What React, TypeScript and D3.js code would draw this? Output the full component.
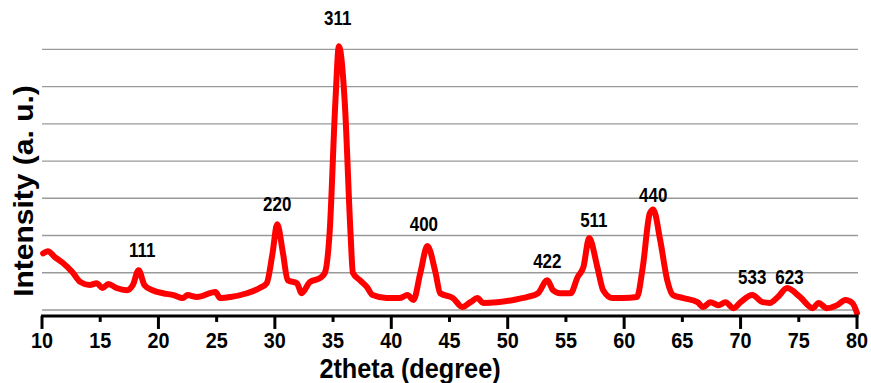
import React from 'react';
import { scaleLinear, line, curveMonotoneX } from 'd3';

// 2theta readings and intensity (in gridline units, a.u.)
const twoTheta = [
  10.1, 10.5, 11.1, 11.8, 12.6, 13.3, 14.1, 14.7, 15.2, 15.7, 16.4, 17.3, 17.8, 18.3, 18.8,
  19.5, 20.4, 21.3, 22.1, 22.5, 23.3, 24.9, 25.3, 26.2, 27.6, 28.7, 29.3, 29.8, 30.2, 30.7,
  31.1, 31.9, 32.3, 33.0, 33.9, 34.3, 34.7, 35.2, 35.5, 36.0, 36.5, 36.7, 37.3, 37.9, 38.4,
  39.6, 40.7, 41.4, 41.9, 42.5, 43.1, 43.8, 44.2, 45.3, 46.1, 46.8, 47.4, 47.9, 49.1, 50.5,
  51.7, 52.6, 53.4, 53.9, 54.5, 55.4, 56.0, 56.5, 57.0, 57.7, 58.2, 59.0, 59.9, 61.1, 61.6,
  62.2, 62.5, 63.1, 63.7, 64.2, 65.1, 66.3, 66.8, 67.4, 68.1, 68.7, 69.4, 70.0, 71.0, 71.9,
  72.5, 73.2, 74.0, 75.1, 76.2, 76.7, 77.4, 78.3, 79.0, 79.6, 80.0
];
const intensity = [
  1.52, 1.58, 1.42, 1.26, 1.02, 0.75, 0.67, 0.72, 0.59, 0.70, 0.59, 0.53, 0.67, 1.07, 0.67,
  0.53, 0.45, 0.40, 0.32, 0.40, 0.35, 0.48, 0.32, 0.35, 0.45, 0.59, 0.72, 1.52, 2.30, 1.52,
  0.80, 0.72, 0.45, 0.75, 0.86, 1.00, 2.06, 5.60, 7.08, 5.60, 2.06, 1.00, 0.80, 0.62, 0.40,
  0.32, 0.32, 0.40, 0.27, 1.00, 1.72, 1.00, 0.45, 0.32, 0.08, 0.21, 0.32, 0.19, 0.21, 0.27,
  0.35, 0.45, 0.80, 0.53, 0.45, 0.45, 0.88, 1.15, 1.93, 1.15, 0.53, 0.32, 0.32, 0.35, 1.15,
  2.59, 2.70, 1.87, 0.80, 0.40, 0.32, 0.21, 0.08, 0.21, 0.13, 0.21, 0.05, 0.21, 0.40, 0.21,
  0.19, 0.35, 0.59, 0.35, 0.05, 0.19, 0.05, 0.13, 0.27, 0.19, -0.08
];

// peak (hkl) labels: text, 2theta, label height
const peakLabels = ['111', '220', '311', '400', '422', '511', '440', '533', '623'];
const peakTheta = [18.6, 30.2, 35.4, 42.8, 53.4, 57.4, 62.5, 71.0, 74.2];
const peakLabelY = [1.42, 2.66, 7.66, 2.11, 1.13, 2.23, 2.9, 0.7, 0.7];

const xTicks = [10, 15, 20, 25, 30, 35, 40, 45, 50, 55, 60, 65, 70, 75, 80];
const gridValues = [0, 1, 2, 3, 4, 5, 6, 7];

const font = '"Liberation Sans", Arial, sans-serif';

const App = () => {
  const x = scaleLinear().domain([10, 80]).range([42, 857]);
  const y = scaleLinear().domain([0, 7]).range([310, 49.3]);
  const axisY = y(-0.16);

  const pts = twoTheta.map((t, i) => [t, intensity[i]] as [number, number]);
  const path = line<[number, number]>()
    .x(d => x(d[0]))
    .y(d => y(d[1]))
    .curve(curveMonotoneX)(pts);

  return (
    <svg width={871} height={383} style={{ position: 'absolute', left: 0, top: 0 }}>
      <rect width={871} height={383} fill="#fff" />
      {gridValues.map(v => (
        <line key={v} x1={42} x2={858} y1={y(v)} y2={y(v)} stroke="#9a9a9a" strokeWidth={1.3} />
      ))}
      <path d={path || ''} fill="none" stroke="#ff0000" strokeWidth={6}
        strokeLinejoin="round" strokeLinecap="round" />
      {/* x axis */}
      <line x1={41} x2={858.5} y1={axisY} y2={axisY} stroke="#000" strokeWidth={3} />
      {xTicks.map(t => (
        <g key={t}>
          <line x1={x(t)} x2={x(t)} y1={axisY} y2={axisY + (t % 10 === 0 ? 13 : 6)}
            stroke="#000" strokeWidth={3} />
          <text transform={`translate(${x(t)},347.5) scale(0.88,1)`} textAnchor="middle"
            fontFamily={font} fontWeight="bold" fontSize={22.5} fill="#000">{t}</text>
        </g>
      ))}
      {peakLabels.map((l, i) => (
        <text key={l} transform={`translate(${x(peakTheta[i])},${y(peakLabelY[i])}) scale(0.87,1)`}
          textAnchor="middle" fontFamily={font} fontWeight="bold" fontSize={19.5} fill="#000">{l}</text>
      ))}
      <text transform="translate(410,377.5) scale(0.92,1)" textAnchor="middle" fontFamily={font}
        fontWeight="bold" fontSize={27.5} fill="#000">2theta (degree)</text>
      <text transform="translate(33,191) rotate(-90) scale(1,0.93)" textAnchor="middle" fontFamily={font}
        fontWeight="bold" fontSize={30} fill="#000">Intensity (a. u.)</text>
    </svg>
  );
};

export default App;
